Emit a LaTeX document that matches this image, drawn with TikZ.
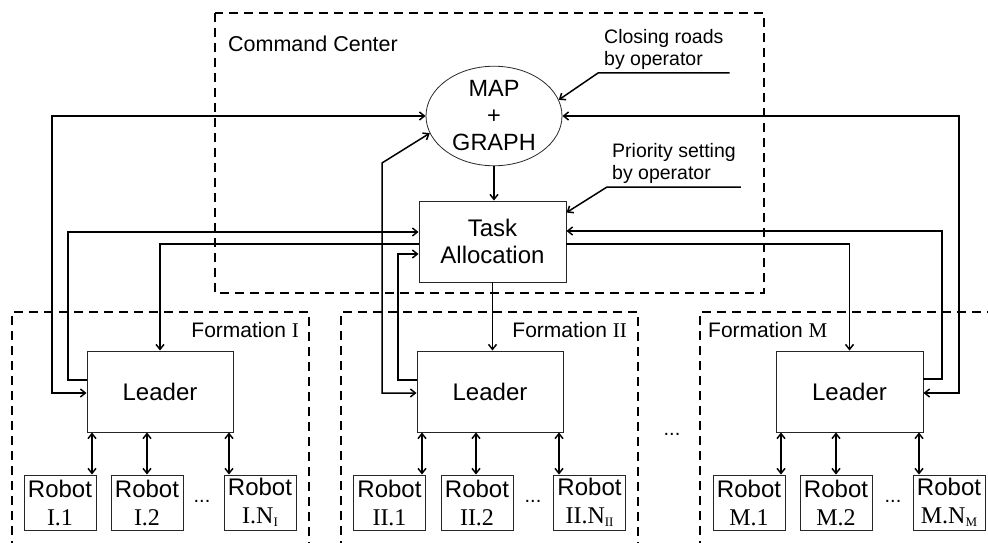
\documentclass[tikz,border=0pt]{standalone}
\usepackage{fontspec}
\setmainfont{Liberation Sans}
\newfontfamily\numfont{Liberation Serif}
\usetikzlibrary{arrows.meta,shapes.geometric}

% subscript for the robot indices
\newcommand{\rsub}[1]{\raisebox{-2.5pt}{\fontsize{13}{13}\selectfont #1}}

\tikzset{
  >={Straight Barb[length=5pt,width=8pt]},
  conn/.style={line width=1.5pt},
  dashbox/.style={line width=1.5pt, dash pattern=on 9pt off 6pt},
  box/.style={draw=black!85, line width=0.9pt, rectangle, inner sep=0pt,
              align=center, font=\fontsize{24}{27}\selectfont},
  leader/.style={box, minimum width=146pt, minimum height=81pt},
  robot/.style={box, minimum width=72pt, minimum height=55pt,
                font=\fontsize{24}{28}\selectfont},
  note/.style={align=left, inner xsep=6pt, inner ysep=3pt,
               font=\fontsize{19.5}{22.5}\selectfont},
  flabel/.style={inner sep=0pt, font=\fontsize{21}{24}\selectfont},
  dotsnode/.style={inner sep=0pt, font=\fontsize{20}{24}\selectfont},
}

\begin{document}
\begin{tikzpicture}[x=1pt, y=-1pt]
\useasboundingbox (0,0) rectangle (988,543);
\clip (0,0) rectangle (988,543);

% group frames
\draw[dashbox] (215,13) rectangle (764,293);
\draw[dashbox] (12,550) -- (12,312) -- (309,312) -- (309,550);
\draw[dashbox] (341,550) -- (341,312) -- (638,312) -- (638,550);
\draw[dashbox] (700,550) -- (700,312) -- (995,312);

% command center
\node[anchor=west, inner sep=0pt, font=\fontsize{21.5}{24}\selectfont] (cc) at (228,44) {Command Center};
\node[draw=black!85, line width=0.8pt, ellipse, minimum width=136pt, minimum height=86pt,
      inner sep=0pt, align=center, font=\fontsize{23.5}{27}\selectfont] (map) at (494,116) {MAP\\+\\GRAPH};
\node[box, minimum width=147pt, minimum height=81pt] (task) at (492.5,241.5) {Task\\Allocation};

\node[note, anchor=south west] (closing) at (598,73) {Closing roads\\by operator};
\node[note, anchor=south west, inner xsep=5pt] (prio) at (607,187) {Priority setting\\by operator};

% formation labels
\node[flabel, anchor=east] (f1) at (299,330) {Formation {\numfont I}};
\node[flabel, anchor=east] (f2) at (627,330) {Formation {\numfont II}};
\node[flabel, anchor=west] (f3) at (708,330) {Formation {\numfont M}};

% leaders
\node[leader] (L1) at (160,391.5) {Leader};
\node[leader] (L2) at (490,391.5) {Leader};
\node[leader, minimum width=147pt] (L3) at (849.5,391.5) {Leader};

% robots
\node[robot] (R11) at (60,502.5) {Robot\\\numfont I.1};
\node[robot] (R12) at (147,502.5) {Robot\\\numfont I.2};
\node[robot] (R1N) at (260,502.5) {Robot\\\numfont I.N\rsub{I}};
\node[robot] (R21) at (389.5,502.5) {Robot\\\numfont II.1};
\node[robot] (R22) at (477,502.5) {Robot\\\numfont II.2};
\node[robot] (R2N) at (589.5,502.5) {Robot\\\numfont II.N\rsub{II}};
\node[robot] (R31) at (749,502.5) {Robot\\\numfont M.1};
\node[robot] (R32) at (836,502.5) {Robot\\\numfont M.2};
\node[robot] (R3N) at (949,502.5) {Robot\\\numfont M.N\rsub{M}};

% ellipses between items
\node[dotsnode] (d1) at (202,501) {...};
\node[dotsnode] (d2) at (533,501) {...};
\node[dotsnode] (d3) at (893,501) {...};
\node[dotsnode] (dm) at (672,434) {...};

% operator inputs
\draw[conn,->] (closing.south east) -- (closing.south west) -- (map.14);
\draw[conn,->] (prio.south east) -- (prio.south west) -- ([yshift=-12pt]task.north east);

% map to task allocation
\draw[conn,->] (map.south) -- (map.south |- task.north);

% formation I links
\draw[conn,<->] (L1.west |- 0,393) -- (52,393) |- (map.west);
\draw[conn,->] (L1.west |- 0,380) -- (68,380) |- (task.west |- 0,232);
\draw[conn,->] (task.west |- 0,244) -| (L1.north);

% formation II links
\draw[conn,->] (L2.west |- 0,380) -- (398,380) |- (task.west |- 0,254);
\draw[conn,<->] (L2.west |- 0,393) -- (382,393) -- (382,163) -- (map.195);
\draw[conn,->] (task.south) -- (task.south |- L2.north);

% formation M links
\draw[conn,<->] (L3.east |- 0,393) -- (959,393) |- (map.east);
\draw[conn,->] (L3.east |- 0,379) -- (942,379) |- (task.east |- 0,231);
\draw[conn,->] (task.east |- 0,244) -| (L3.north);

% leader to robot links
\draw[conn,<->] (92,0 |- L1.south) -- (92,0 |- R11.north);
\draw[conn,<->] (147,0 |- L1.south) -- (147,0 |- R12.north);
\draw[conn,<->] (229,0 |- L1.south) -- (229,0 |- R1N.north);
\draw[conn,<->] (422,0 |- L2.south) -- (422,0 |- R21.north);
\draw[conn,<->] (476,0 |- L2.south) -- (476,0 |- R22.north);
\draw[conn,<->] (559,0 |- L2.south) -- (559,0 |- R2N.north);
\draw[conn,<->] (781,0 |- L3.south) -- (781,0 |- R31.north);
\draw[conn,<->] (836,0 |- L3.south) -- (836,0 |- R32.north);
\draw[conn,<->] (919,0 |- L3.south) -- (919,0 |- R3N.north);
\end{tikzpicture}
\end{document}
